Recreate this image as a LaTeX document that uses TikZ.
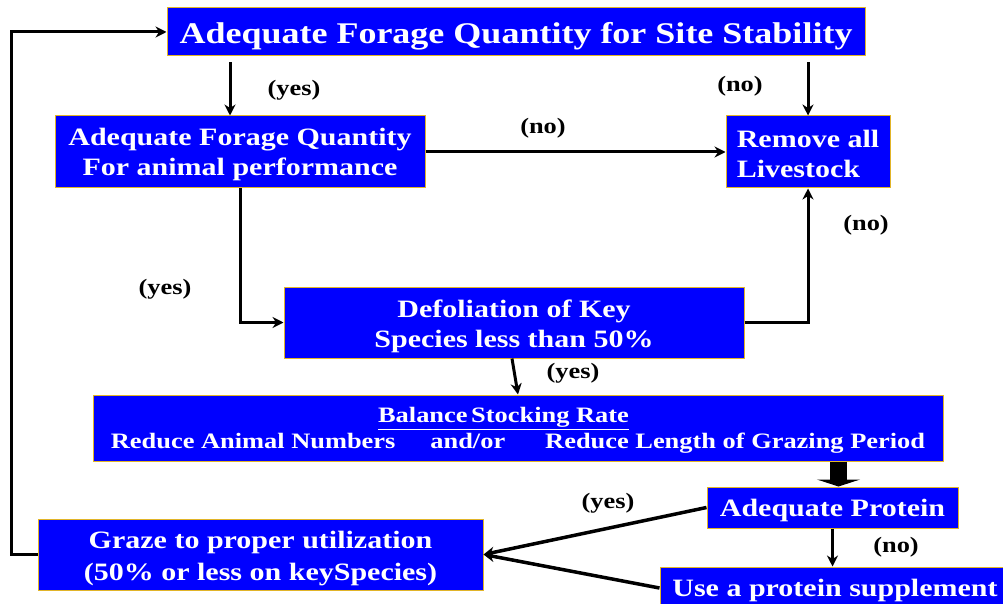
\documentclass[tikz,border=0pt]{standalone}
\usepackage{fontspec}
\setmainfont{Liberation Serif}
\newfontfamily\wfont[FakeStretch=1.2]{Liberation Serif}
\usetikzlibrary{arrows.meta}
\definecolor{boxblue}{RGB}{0,0,255}
\definecolor{boxgold}{RGB}{225,180,40}
\newcommand\dnrule[1]{\rule{0pt}{#1}}
\begin{document}
\begin{tikzpicture}[x=1pt,y=-1pt,
  box/.style={draw=boxgold, line width=1pt, fill=boxblue, text=white, font=\wfont\bfseries\fontsize{25}{30}\selectfont, align=center, inner sep=0pt},
  lbl/.style={font=\wfont\bfseries\fontsize{22}{26}\selectfont, text=black, inner sep=0pt},
  conn/.style={line width=3pt, -{Stealth[length=11pt,width=11pt]}},
  fat/.style={line width=17pt, -{Triangle[length=7pt,width=43pt]}},
]
\useasboundingbox (0,0) rectangle (1003,604);
\node[box, minimum width=698pt, minimum height=48pt, font=\wfont\bfseries\fontsize{30}{34}\selectfont] (A) at (516,32) {\dnrule{29pt}Adequate Forage Quantity for Site Stability};
\node[box, minimum width=370pt, minimum height=72pt] (B) at (240,152) {\dnrule{22pt}Adequate Forage Quantity\\For animal performance};
\node[box, minimum width=164pt, minimum height=72pt, align=left] (C) at (808,152) {\dnrule{21pt}Remove all\\Livestock};
\node[box, minimum width=460pt, minimum height=71pt] (D) at (514,322.5) {\dnrule{26pt}Defoliation of Key\\Species less than 50\%};
\node[box, minimum width=850pt, minimum height=66pt, font=\wfont\bfseries\fontsize{22}{26}\selectfont] (E) at (518,428) {\dnrule{20pt}\underline{Balance\,Stocking Rate}\hspace*{29pt}\\Reduce Animal Numbers\hspace{35pt}and/or\hspace{40pt}Reduce Length of Grazing Period};
\node[box, minimum width=251pt, minimum height=41pt] (F) at (832.5,507.5) {\dnrule{24pt}Adequate Protein};
\node[box, minimum width=445pt, minimum height=71pt, font=\wfont\bfseries\fontsize{25}{32}\selectfont] (G) at (260.5,554.5) {\dnrule{26pt}Graze to proper utilization\\(50\% or less on keySpecies)};
\node[box, minimum width=350pt, minimum height=42pt] (H) at (835,588) {\dnrule{22pt}Use a protein supplement};

\draw[conn, shorten <=6pt] ([xshift=-10pt]B.north |- A.south) -- ([xshift=-10pt]B.north);
\draw[conn, shorten <=6pt] (C.north |- A.south) -- (C.north);
\draw[conn] (B.east) -- (C.west);
\draw[conn] (B.south) |- (D.west);
\draw[conn] (D.east) -| (C.south);
\draw[conn] ([xshift=-2pt]D.south) -- (E.north);
\draw[fat] ([xshift=6pt]F.north |- E.south) -- ([xshift=6pt]F.north);
\draw[conn, line width=3.5pt] (F.west) -- (G.east);
\draw[conn, line width=3.5pt] (H.west) -- (G.east);
\draw[conn] (F.south) -- (F.south |- H.north);
\draw[conn] (G.west) -- ++(-26,0) |- (A.west);

\node[lbl] (l1) at (294,90) {(yes)};
\node[lbl] (l2) at (740,86) {(no)};
\node[lbl] (l3) at (543,128) {(no)};
\node[lbl] (l4) at (165,289) {(yes)};
\node[lbl] (l5) at (866,225) {(no)};
\node[lbl] (l6) at (573,373) {(yes)};
\node[lbl] (l7) at (608,503) {(yes)};
\node[lbl] (l8) at (896,547) {(no)};
\end{tikzpicture}
\end{document}
